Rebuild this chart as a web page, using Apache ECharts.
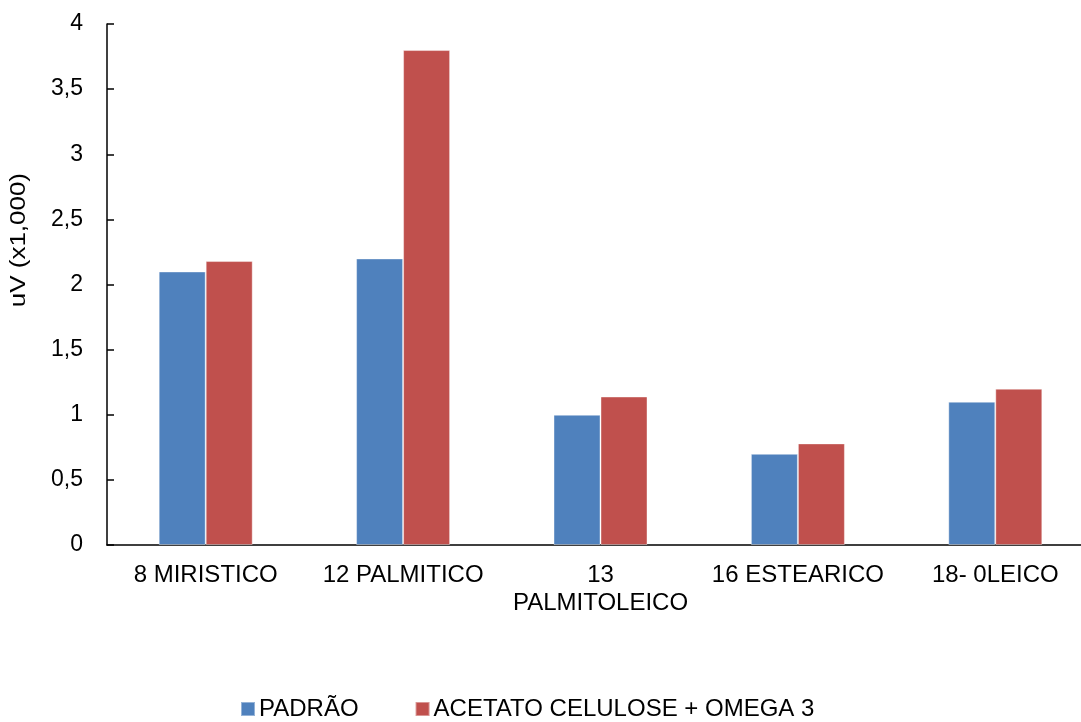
<!DOCTYPE html>
<html>
<head>
<meta charset="utf-8">
<script src="https://cdn.jsdelivr.net/npm/echarts@6/dist/echarts.min.js"></script>
<style>
html,body{margin:0;padding:0;background:#fff;overflow:hidden;}
#chart{width:1081px;height:722px;}
</style>
</head>
<body>
<div id="chart"></div>
<script>
const categories = ['8 MIRISTICO', '12 PALMITICO', '13\nPALMITOLEICO', '16 ESTEARICO', '18- 0LEICO'];
const padrao = [2.10, 2.20, 1.00, 0.70, 1.10];
const acetato = [2.18, 3.80, 1.14, 0.78, 1.20];
const seriesNames = ['PADRÃO', 'ACETATO CELULOSE + OMEGA 3'];
const yAxisTitle = 'uV (x1,000)';

const font = '"Liberation Sans", Arial, sans-serif';
const chart = echarts.init(document.getElementById('chart'), null, {renderer: 'canvas'});
chart.setOption({
  animation: false,
  backgroundColor: '#fff',
  textStyle: {fontFamily: font},
  grid: {left: 107, top: 24, height: 521, width: 987, containLabel: false, outerBoundsMode: 'none'},
  legend: {
    left: 240, top: 697, padding: 0,
    itemWidth: 14, itemHeight: 14, itemGap: 56,
    icon: 'rect',
    textStyle: {fontFamily: font, fontSize: 24, color: '#000', padding: [0, 0, 0, -1]},
    data: seriesNames
  },
  graphic: [{
    type: 'text',
    left: 8, top: 173,
    rotation: Math.PI / 2,
    scaleX: 1.18,
    style: {text: yAxisTitle, font: '22px ' + font, fill: '#000'}
  }],
  xAxis: {
    type: 'category',
    data: categories,
    axisLine: {lineStyle: {color: '#000', width: 1.5}},
    axisTick: {show: false},
    axisLabel: {color: '#000', fontSize: 24, fontFamily: font, margin: 16, lineHeight: 28, interval: 0}
  },
  yAxis: {
    type: 'value',
    min: 0, max: 4, interval: 0.5,
    axisLine: {show: true, lineStyle: {color: '#000', width: 1.5}},
    axisTick: {show: true, inside: true, length: 7, lineStyle: {color: '#000', width: 1.5}},
    splitLine: {show: false},
    axisLabel: {
      color: '#000', fontSize: 23, fontFamily: font, margin: 24,
      formatter: v => String(v).replace('.', ',')
    }
  },
  series: [
    {name: seriesNames[0], type: 'bar', data: padrao, barWidth: 47, barGap: '0%',
     itemStyle: {color: '#4F81BD', borderColor: 'rgba(255,255,255,0.4)', borderWidth: 1}},
    {name: seriesNames[1], type: 'bar', data: acetato, barWidth: 47, barGap: '0%',
     itemStyle: {color: '#C0504D', borderColor: 'rgba(255,255,255,0.4)', borderWidth: 1}}
  ]
});
</script>
</body>
</html>
